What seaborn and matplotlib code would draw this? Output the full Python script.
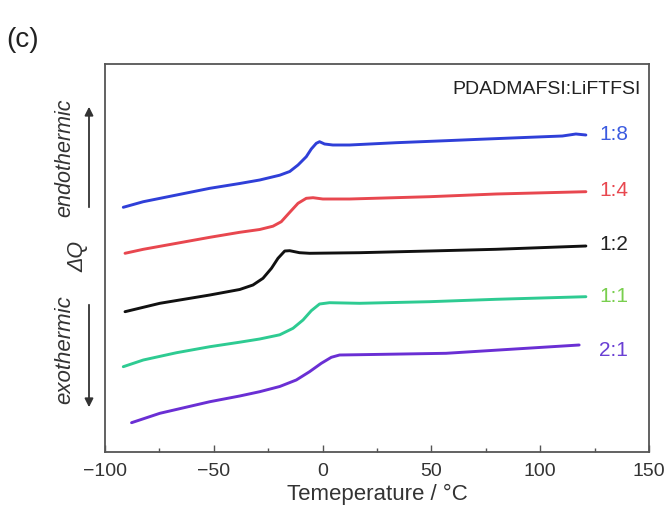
import numpy as np
import pandas as pd
import matplotlib
matplotlib.use("Agg")
import matplotlib.pyplot as plt
from matplotlib.ticker import MultipleLocator
import seaborn as sns

# ---- data ----
t_18 = [-91.6, -82.4, -67.1, -51.8, -38.1, -28.9, -19.7, -15.1, -11.3, -7.5, -5.2, -2.9, -1.4, 0.9, 4.7, 12.4, 33.8, 56.7, 72.0, 95.0, 110.2, 116.4, 121.0]
q_18 = [2.447, 2.503, 2.570, 2.637, 2.685, 2.720, 2.768, 2.805, 2.870, 2.953, 3.030, 3.087, 3.103, 3.080, 3.070, 3.070, 3.093, 3.113, 3.127, 3.147, 3.160, 3.180, 3.170]

t_14 = [-90.8, -82.4, -67.1, -51.8, -38.1, -28.9, -22.8, -19.0, -15.1, -11.3, -7.5, -4.4, 0.1, 12.4, 49.1, 79.7, 121.0]
q_14 = [1.987, 2.027, 2.087, 2.147, 2.197, 2.225, 2.258, 2.303, 2.397, 2.487, 2.537, 2.543, 2.530, 2.530, 2.553, 2.580, 2.603]

t_12 = [-90.8, -74.8, -51.8, -38.1, -32.0, -27.4, -23.5, -20.5, -17.4, -15.1, -10.6, -6.0, 17.0, 49.1, 79.7, 121.0]
q_12 = [1.403, 1.487, 1.570, 1.625, 1.670, 1.737, 1.837, 1.937, 2.010, 2.013, 1.993, 1.987, 1.993, 2.010, 2.027, 2.060]

t_11 = [-91.6, -82.4, -67.1, -51.8, -38.1, -28.9, -19.7, -13.6, -9.0, -5.2, -1.4, 3.2, 17.0, 49.1, 79.7, 121.0]
q_11 = [0.853, 0.920, 0.993, 1.053, 1.098, 1.130, 1.172, 1.237, 1.320, 1.413, 1.480, 1.493, 1.487, 1.503, 1.527, 1.553]

t_21 = [-87.8, -74.8, -51.8, -38.1, -28.9, -19.7, -12.1, -6.0, -0.6, 4.0, 7.8, 17.0, 56.7, 117.9]
q_21 = [0.293, 0.387, 0.503, 0.560, 0.603, 0.655, 0.720, 0.803, 0.887, 0.947, 0.970, 0.973, 0.987, 1.070]

ratios = ["1:8", "1:4", "1:2", "1:1", "2:1"]
line_colors = ["#2f3fd8", "#e8474f", "#111111", "#2ecb92", "#6a2fd4"]
label_colors = ["#3b5be0", "#e8474f", "#222222", "#79cf4e", "#6a3fd4"]
label_y = [3.17, 2.61, 2.07, 1.55, 1.02]

series = {"1:8": (t_18, q_18), "1:4": (t_14, q_14), "1:2": (t_12, q_12),
          "1:1": (t_11, q_11), "2:1": (t_21, q_21)}
df = pd.concat([pd.DataFrame({"T": t, "Q": q, "ratio": r}) for r, (t, q) in series.items()],
               ignore_index=True)

# ---- plot ----
sns.set_style("white")
plt.rcParams["font.family"] = ["Liberation Sans", "DejaVu Sans"]

fig = plt.figure(figsize=(6.69, 5.13), dpi=100)
ax = fig.add_axes([105/669, 61/513, 544/669, 388/513])

sns.lineplot(data=df, x="T", y="Q", hue="ratio", hue_order=ratios,
             palette=dict(zip(ratios, line_colors)), sort=False,
             linewidth=2.1, legend=False, ax=ax)
for ln in ax.get_lines():
    ln.set_solid_joinstyle("round")
    ln.set_solid_capstyle("round")

for r, c, y in zip(ratios, label_colors, label_y):
    ax.text(127.0, y, r, color=c, fontsize=15, ha="left", va="center")

ax.text(146, 3.62, "PDADMAFSI:LiFTFSI", fontsize=14, ha="right", va="center", color="#222222")

ax.set_xlim(-100, 150)
ax.set_ylim(0, 3.88)
ax.xaxis.set_major_locator(MultipleLocator(50))
ax.xaxis.set_minor_locator(MultipleLocator(25))
ax.set_yticks([])
ax.tick_params(axis="x", which="major", direction="in", length=5, width=1, color="#555555",
               labelsize=14, labelcolor="#333333", pad=8, bottom=True, top=False)
ax.tick_params(axis="x", which="minor", direction="in", length=3, width=1, color="#555555",
               bottom=True, top=False)
for s in ax.spines.values():
    s.set_color("#555555")
    s.set_linewidth(1.3)

ax.set_xlabel("Temeperature / °C", fontsize=16, color="#333333", labelpad=3)
ax.set_ylabel("")

# side annotations
fig.text(65/669, 1 - 158/513, "endothermic", rotation=90, style="italic", fontsize=15.5,
         ha="center", va="center", color="#333333")
fig.text(78/669, 1 - 256/513, "ΔQ", rotation=90, fontsize=15.5,
         ha="center", va="center", color="#333333", style="italic")
fig.text(65/669, 1 - 350/513, "exothermic", rotation=90, style="italic", fontsize=16,
         ha="center", va="center", color="#333333")
fig.add_artist(matplotlib.patches.FancyArrowPatch((89/669, 1 - 210/513), (89/669, 1 - 104/513),
               transform=fig.transFigure, arrowstyle="-|>,head_length=5,head_width=2.5",
               color="#333333", lw=1.3))
fig.add_artist(matplotlib.patches.FancyArrowPatch((89/669, 1 - 302/513), (89/669, 1 - 410/513),
               transform=fig.transFigure, arrowstyle="-|>,head_length=5,head_width=2.5",
               color="#333333", lw=1.3))

fig.text(6/669, 1 - 40/513, "(c)", fontsize=20, ha="left", va="center", color="#222222")

fig.savefig("out.png", dpi=100)
